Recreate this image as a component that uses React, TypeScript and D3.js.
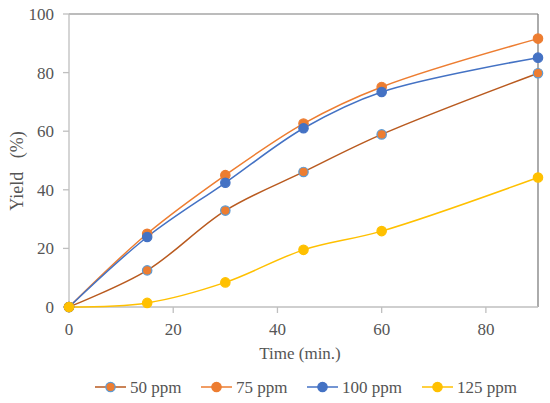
import { FC } from 'react'
import * as d3 from 'd3'

const times = [0, 15, 30, 45, 60, 90]
const seriesNames = ['50 ppm', '75 ppm', '100 ppm', '125 ppm']
const yield50 = [0, 12.5, 32.9, 46.1, 58.9, 79.8]
const yield75 = [0, 25, 45, 62.6, 75.1, 91.6]
const yield100 = [0, 23.9, 42.4, 61, 73.4, 85.1]
const yield125 = [0, 1.4, 8.4, 19.5, 25.9, 44.2]
const xTicks = [0, 20, 40, 60, 80]
const yTicks = [0, 20, 40, 60, 80, 100]

const styles = [
  { line: '#B95A1F', fill: '#ED7D31', stroke: '#5B9BD5' },
  { line: '#ED7D31', fill: '#ED7D31', stroke: '#ED7D31' },
  { line: '#4472C4', fill: '#4472C4', stroke: '#4472C4' },
  { line: '#FFC000', fill: '#FFC000', stroke: '#FFC000' }
]

const width = 550
const height = 403
const margin = { top: 14, right: 12, bottom: 96, left: 69 }
const textColor = '#555555'
const axisColor = '#bfbfbf'
const textStyle = { fontFamily: "'Liberation Serif'", fontSize: '17px' }

const x = d3.scaleLinear().domain([0, 90]).range([margin.left, width - margin.right])
const y = d3.scaleLinear().domain([0, 100]).range([height - margin.bottom, margin.top])

const line = d3.line<number>()
  .x((_, i) => x(times[i]))
  .y(d => y(d))
  .curve(d3.curveCatmullRom.alpha(0.5))

const data = [yield50, yield75, yield100, yield125]
const legendX = [95, 201, 307, 422]

export const App: FC = () => {
  document.body.style.margin = '0'
  return (
    <svg width={width} height={height} style={{ display: 'block', background: '#fff' }}>
      {/* frame */}
      <line x1={x(0)} x2={x(90)} y1={y(100)} y2={y(100)} stroke="#a6a6a6" strokeWidth={1.3} />
      <line x1={x(90)} x2={x(90)} y1={y(100)} y2={y(0)} stroke="#7f7f7f" strokeWidth={1.3} />
      <line x1={x(0)} x2={x(90)} y1={y(0)} y2={y(0)} stroke={axisColor} strokeWidth={1.3} />
      <line x1={x(0)} x2={x(0)} y1={y(0)} y2={y(100)} stroke={axisColor} strokeWidth={1.3} />

      {xTicks.map(t => (
        <g key={'x' + t} transform={`translate(${x(t)},${y(0)})`}>
          <line y2={6} stroke={axisColor} strokeWidth={1.3} />
          <text y={28} textAnchor="middle" fill={textColor} style={textStyle}>{t}</text>
        </g>
      ))}
      {yTicks.map(t => (
        <g key={'y' + t} transform={`translate(${x(0)},${y(t)})`}>
          <line x2={-6} stroke={axisColor} strokeWidth={1.3} />
          <text x={-15} y={6} textAnchor="end" fill={textColor} style={textStyle}>{t}</text>
        </g>
      ))}

      {data.map((vals, s) => (
        <path key={'l' + s} d={line(vals) ?? ''} fill="none" stroke={styles[s].line} strokeWidth={1.5} />
      ))}
      {data.map((vals, s) => (
        <g key={'m' + s}>
          {vals.map((v, i) => (
            <circle key={i} cx={x(times[i])} cy={y(v)} r={4.7}
              fill={styles[s].fill} stroke={styles[s].stroke} strokeWidth={1.2} />
          ))}
        </g>
      ))}

      <text x={300} y={359} textAnchor="middle" fill={textColor} style={textStyle}>Time (min.)</text>
      <text transform="translate(23,171) rotate(-90)" textAnchor="middle" fill={textColor}
        style={{ ...textStyle, fontSize: '18px', whiteSpace: 'pre' }}>{'Yield   (%)'}</text>

      {seriesNames.map((name, s) => (
        <g key={name} transform={`translate(${legendX[s]},387)`}>
          <line x2={31} stroke={styles[s].line} strokeWidth={1.5} />
          <circle cx={15.5} r={4.7} fill={styles[s].fill} stroke={styles[s].stroke} strokeWidth={1.2} />
          <text x={35} y={6} fill={textColor} style={textStyle}>{name}</text>
        </g>
      ))}
    </svg>
  )
}

export default App
